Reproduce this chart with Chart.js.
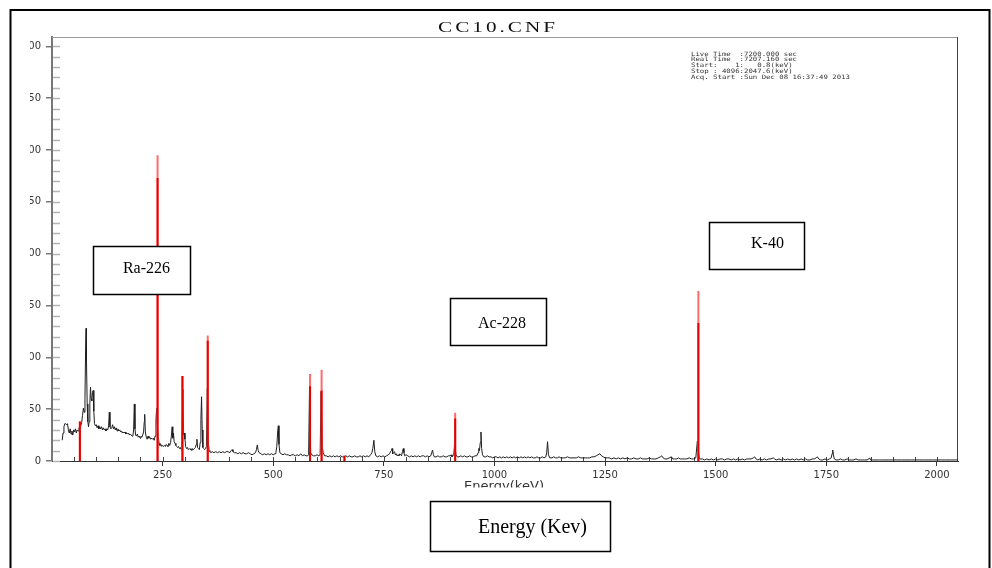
<!DOCTYPE html>
<html><head><meta charset="utf-8">
<script src="https://cdn.jsdelivr.net/npm/chart.js@4.4.1/dist/chart.umd.min.js"></script>
<style>html,body{margin:0;padding:0;background:#fff;}canvas{display:block;}</style>
</head><body>
<canvas id="c" width="992" height="568"></canvas>
<script>
const chartTitle = "CC10.CNF";
const axisTitle = "Energy(keV)";
const infoLines = [
  "Live Time  :7200.000 sec",
  "Real Time  :7207.160 sec",
  "Start:    1:   0.8(keV)",
  "Stop : 4096:2047.6(keV)",
  "Acq. Start :Sun Dec 08 16:37:49 2013"
];
const peakLabels = ["Ra-226", "Ac-228", "K-40", "Energy (Kev)"];
const xTickValues = [250, 500, 750, 1000, 1250, 1500, 1750, 2000];
const yTickValues = [0, 50, 100, 150, 200, 250, 300, 350, 400];
const xMinorStep = 50;
const yMinorStep = 10;

const spectrumKeV = [
  23,25,27,29,31,33,35,37,39,41, 43,45,47,49,51,53,55,57,59,61, 63,
  65,67,69,71,73,74.5,76,77,78,79.5, 81,82.5,84,85.5,87,88.5,90,91.5,93,94.5, 96,98,100,102,104,106,108,110,112,114, 116,118,120,122,124,126,128,129.5,131,133,
  135,137,139,141,143,145,147,149,151,153, 155,157,159,161,163,165,167,169,171,173, 175,177,179,181,183,184.5,186,187.5,189,191, 193,195,197,199,201,203,205,207,208.5,209.5,
  211,213,215,217,219,221,223,225,227,229, 231,233,235,236.5,238,240,242,244,246,248, 250,252,254,256,258,260,262,264,266,268, 270,271.5,273,274.5,276,278,280,282,284,286,
  288,290,292,293.5,296,297.5,299,300.5,302,304, 306,308,310,312,314,316,318,320,322,324, 326,327.5,329,331,333,335,336.5,338,339.5,341, 343,345,347,349,351,353,355,357,359,362,
  366,370,374,378,382,386,390,394,398,402, 405,407,409,412,416,420,424,428,432,436, 440,444,448,452,456,460,462,464,466,468, 472,476,480,484,488,492,496,500,504,506,
  508,510,511.5,513,515,518,522,526,530,534, 538,542,546,550,554,558,562,566,570,574, 578,580,582,584.5,587,591,595,599,603,606, 608,611,613,616,620,624,628,632,636,640,
  644,648,652,656,660,664,668,672,676,680, 684,688,692,696,700,704,708,712,716,720, 723,725,727.5,729.5,732,736,740,744,748,752, 756,760,763,765,767,768.5,770,772,774,776,
  778,780,782,784,786,788,790,792,794,795.5, 797,800,804,808,812,816,820,824,828,832, 836,840,844,848,852,856,858,860,862,864, 868,872,876,880,884,888,892,896,900,902,
  904,908,910,913,916,920,924,928,932,936, 940,944,948,952,956,960,963,964.5,966,968, 969.5,971,973,976,980,984,988,992,996,1000, 1004,1008,1012,1016,1020,1024,1028,1032,1036,1040,
  1044,1048,1052,1056,1060,1064,1068,1072,1076,1080, 1084,1088,1092,1096,1100,1104,1108,1112,1116,1118, 1120,1122,1125,1130,1134,1138,1142,1146,1150,1155, 1160,1165,1170,1175,1180,1185,1190,1195,1200,1205,
  1210,1215,1220,1225,1230,1234,1238,1242,1246,1250, 1255,1260,1265,1270,1275,1280,1285,1290,1295,1300, 1305,1310,1315,1320,1325,1330,1335,1340,1345,1350, 1355,1360,1365,1370,1375,1378,1381,1385,1390,1395,
  1400,1403,1407,1412,1416,1420,1425,1430,1435,1440, 1445,1450,1455,1458.5,1463,1466,1470,1475,1480,1485, 1490,1495,1500,1505,1510,1515,1520,1525,1530,1535, 1540,1545,1550,1555,1560,1565,1570,1575,1580,1585,
  1588,1591,1595,1600,1605,1610,1615,1620,1625,1630, 1633,1638,1643,1648,1653,1658,1663,1668,1673,1678, 1683,1688,1693,1698,1703,1708,1713,1718,1723,1727, 1730,1733,1737,1742,1747,1752,1757,1761,1763,1764.5,
  1766,1768,1772,1777,1782,1787,1792,1797,1802,1807, 1812,1817,1822,1827,1832,1837,1842,1846,1848,1850, 1855,1860,1865,1870,1875,1880,1890,1900,1910,1920, 1930,1940,1950,1960,1970,1980,1990,2000,2010,2020,
  2030,2040,2047
];
const spectrumCounts = [
  20,27,33,36,36,35,36,30,27,31, 26,29,25,30,28,31,27,30,29,32, 31,
  34,37,44,51,47,60,110,128,95,55, 38,33,38,55,71,60,58,66,68,48, 36,34,35,32,34,31,33,31,33,30, 32,30,31,29,31,30,34,47,33,31,
  32,35,31,33,30,32,29,31,29,30, 28,29,27,28,27,28,26,27,26,27, 25,26,25,24,25,30,55,31,25,24, 26,23,24,22,24,23,25,28,38,45,
  28,23,21,24,22,23,21,22,21,22, 20,24,40,51,35,24,17,15,16,14, 15,14,15,14,16,15,14,17,15,18, 25,33,22,27,19,17,15,14,13,14,
  12,13,11,20,69,25,27,21,14,12, 13,11,12,11,12,10,12,11,12,13, 16,21,13,12,11,18,40,62,30,13, 12,11,12,14,70,20,10,9,8,9,
  8,9,8,9,8,9,8,9,9,8, 10,11,9,8,8,7,8,7,8,7, 7,8,7,6,7,8,11,15.5,10,8, 7,6,7,6,7,6,7,6,7,8,
  14,28,34,16,8,7,6,7,6,6, 5,6,6,5,6,5,7,5,6,5, 5,6,72,8,6,5,5,6,5,6, 67,13,8,5,5,4,5,4,5,4,
  5,4,5,4,4,5,4,5,4,4, 5,4,4,5,4,5,4,5,4,6, 8,12,20,9,5,4,5,4,5,4, 5,6,7,9,10,12,7,8,9,6,
  7,5,6,5,7,6,5,9,12,8, 5,6,5,4,5,4,5,4,5,4, 5,5,4,5,4,5,8,10.5,6,4, 4,5,4,4,5,4,4,5,5,6,
  4,6,17,6,4,4,5,4,5,4, 4,5,4,4,5,5,8,12,10,18, 28,12,6,4,4,5,4,4,3,4, 4,3,4,3,4,3,4,3,4,3,
  4,3,4,3,4,3,4,3,4,3, 4,3,3,4,3,3,4,3,4,8, 18.6,6,3,3,4,3,3,4,3,3, 3,4,3,3,3,3,4,3,3,3,
  3,3,4,4,5,6,7,5,4,3, 3,3,2,3,2,3,2,3,2,3, 2,2,3,2,2,3,2,2,2,3, 2,2,2,3,4,5,3,2,2,3,
  4,2,2,2,3,2,2,2,2,3, 2,2,3,19,2,2,2,1,2,1, 2,1,2,1,2,2,1,2,2,1, 2,1,2,1,2,1,2,2,2,3,
  4,2,1,2,1,2,1,2,2,3, 2,1,2,1,2,1,2,1,2,1, 2,1,2,1,2,1,1,2,2,3, 4,2,1,1,2,1,2,3,7,10.6,
  6,2,1,1,2,1,1,2,1,1, 1,2,1,1,1,1,1,2,3,1, 1,1,1,1,1,1,1,1,1,1, 1,1,1,1,1,1,1,1,1,1,
  1,1,1
];

// identified peaks (ROIs) drawn in red
const roiKeV  = [63, 238.6, 294.8, 352, 583.2, 609.3, 661, 911.2, 1460.8];
const roiTop  = [38, 295, 82, 121, 84, 88, 5, 46.5, 164];
const roiCore = [38, 273, 82, 116, 72, 68, 5, 41, 133];

const spectrumData = spectrumKeV.map((e, i) => ({x: e, y: spectrumCounts[i]}));
const roiSticks = (tops) => roiKeV.flatMap((e, i) => [{x: e, y: 0}, {x: e, y: tops[i]}, {x: e, y: null}]);

const decor = {
  id: 'decor',
  beforeDatasetsDraw(chart) {
    const {ctx, chartArea: a, scales: {x, y}} = chart;
    ctx.save();
    ctx.strokeStyle = '#b4b4b4'; ctx.lineWidth = 1.5;
    for (let v = 0; v <= y.max; v += yMinorStep) {
      const py = Math.round(y.getPixelForValue(v)) + 0.5;
      ctx.beginPath(); ctx.moveTo(a.left + 1, py); ctx.lineTo(a.left + 8, py); ctx.stroke();
    }
    ctx.strokeStyle = '#444'; ctx.lineWidth = 1;
    for (let v = xMinorStep; v < x.max; v += xMinorStep) {
      const px = Math.round(x.getPixelForValue(v)) + 0.5;
      ctx.beginPath(); ctx.moveTo(px, a.bottom); ctx.lineTo(px, a.bottom - 4); ctx.stroke();
    }
    ctx.strokeStyle = '#9a9a9a';
    ctx.beginPath(); ctx.moveTo(a.left, a.top + 0.5); ctx.lineTo(a.right, a.top + 0.5); ctx.stroke();
    ctx.strokeStyle = '#444';
    ctx.beginPath(); ctx.moveTo(a.right - 0.5, a.top); ctx.lineTo(a.right - 0.5, a.bottom); ctx.stroke();
    ctx.restore();
  },
  afterDraw(chart) {
    const {ctx} = chart;
    ctx.save();
    // the left edge of the value labels is cropped in the source picture
    ctx.fillStyle = '#fff';
    ctx.fillRect(12, 30, 18, 445);
    // outer document frame
    ctx.strokeStyle = '#000'; ctx.lineWidth = 2;
    ctx.strokeRect(10.5, 10, 979, 600);

    // title
    ctx.fillStyle = '#111';
    ctx.font = '14px "Liberation Serif"';
    ctx.letterSpacing = '2px';
    let w = ctx.measureText(chartTitle).width - 2;
    ctx.save();
    ctx.translate(438, 32); ctx.scale(117 / w, 1);
    ctx.textAlign = 'left'; ctx.textBaseline = 'alphabetic';
    ctx.fillText(chartTitle, 0, 0);
    ctx.restore();
    ctx.letterSpacing = '0px';

    // acquisition info
    ctx.font = '6px "DejaVu Sans Mono"';
    ctx.fillStyle = '#333';
    const longest = Math.max(...infoLines.map(s => ctx.measureText(s).width));
    ctx.save();
    ctx.translate(691, 0); ctx.scale(159 / longest, 1);
    infoLines.forEach((s, i) => ctx.fillText(s, 0, 55.5 + i * 5.8));
    ctx.restore();

    // axis title, cut off at its lower part
    ctx.save();
    ctx.beginPath(); ctx.rect(300, 470, 400, 17.5); ctx.clip();
    ctx.font = '12px "DejaVu Sans"'; ctx.fillStyle = '#333';
    w = ctx.measureText(axisTitle).width;
    ctx.translate(464, 489.5); ctx.scale(80 / w, 1);
    ctx.fillText(axisTitle, 0, 0);
    ctx.restore();

    // text boxes
    const boxes = [
      {x: 93.5, y: 246.5, w: 97, h: 48, tx: 146.5, ty: 273, size: 16},
      {x: 450.5, y: 298.5, w: 96, h: 47, tx: 502, ty: 328, size: 16},
      {x: 709.5, y: 222.5, w: 95, h: 47, tx: 767.5, ty: 248, size: 16},
      {x: 430.5, y: 501.5, w: 180, h: 50, tx: 532.5, ty: 533, size: 20}
    ];
    boxes.forEach((b, i) => {
      ctx.fillStyle = '#fff'; ctx.fillRect(b.x, b.y, b.w, b.h);
      ctx.strokeStyle = '#000'; ctx.lineWidth = 1.5; ctx.strokeRect(b.x, b.y, b.w, b.h);
      ctx.fillStyle = '#000'; ctx.font = b.size + 'px "Liberation Serif"';
      ctx.textAlign = 'center'; ctx.textBaseline = 'alphabetic';
      ctx.fillText(peakLabels[i], b.tx, b.ty);
    });
    ctx.restore();
  }
};

new Chart(document.getElementById('c'), {
  type: 'line',
  data: {
    datasets: [
      {label: 'ROI core', data: roiSticks(roiCore), borderColor: '#e60000', borderWidth: 2, pointRadius: 0, spanGaps: false, order: 0},
      {label: 'ROI', data: roiSticks(roiTop), borderColor: '#ff6b6b', borderWidth: 2, pointRadius: 0, spanGaps: false, order: 1},
      {label: 'Spectrum', data: spectrumData, borderColor: '#1e1e1e', borderWidth: 1, pointRadius: 0, tension: 0, order: 2}
    ]
  },
  options: {
    responsive: false, animation: false, devicePixelRatio: 1,
    layout: {padding: {left: 12, right: 34, top: 37, bottom: 77}},
    plugins: {legend: {display: false}, tooltip: {enabled: false}, title: {display: false}},
    scales: {
      x: {
        type: 'linear', min: 0, max: 2047.6, offset: false,
        afterBuildTicks: s => { s.ticks = xTickValues.map(v => ({value: v})); },
        afterFit: s => { s.height = 30; },
        ticks: {font: {family: 'DejaVu Sans', size: 10}, color: '#333', padding: 3, maxRotation: 0, autoSkip: false, callback: v => String(v)},
        grid: {drawOnChartArea: false, tickLength: 5, color: '#333'},
        border: {color: '#333', width: 1}
      },
      y: {
        type: 'linear', min: 0, max: 409,
        afterBuildTicks: s => { s.ticks = yTickValues.map(v => ({value: v})); },
        afterFit: s => { s.width = 40; },
        ticks: {font: {family: 'DejaVu Sans', size: 10}, color: '#333', padding: 5, autoSkip: false, callback: v => String(v)},
        grid: {drawOnChartArea: false, tickLength: 6, color: '#777', lineWidth: 1.5},
        border: {color: '#777', width: 2}
      }
    }
  },
  plugins: [decor]
});
</script>
</body></html>
